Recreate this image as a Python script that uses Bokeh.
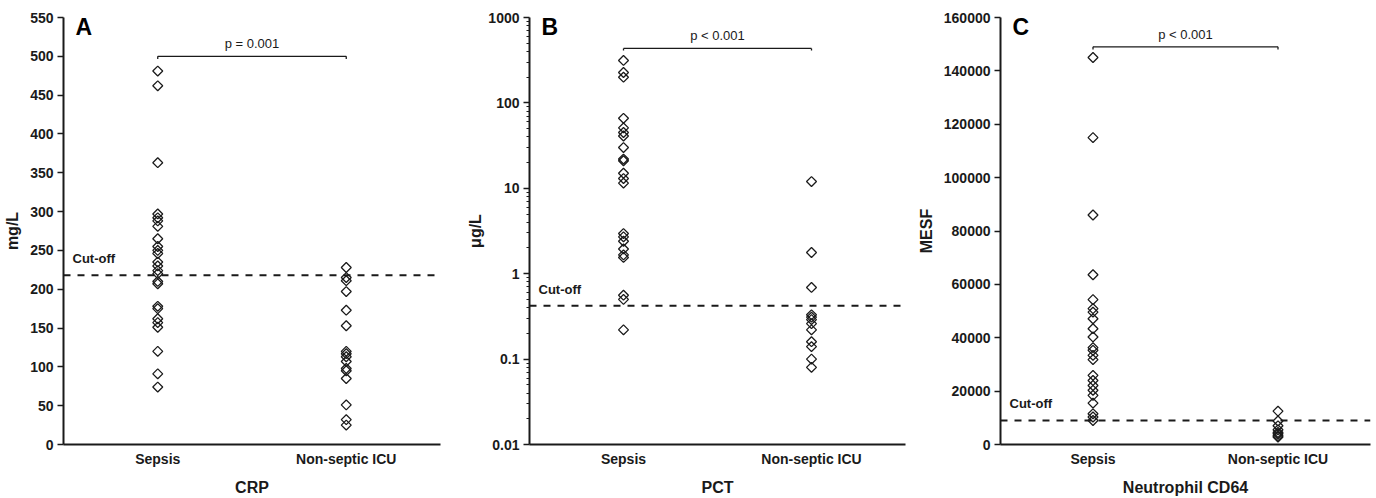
import math
from bokeh.plotting import figure
from bokeh.layouts import row
from bokeh.models import (FixedTicker, Span, Label, ColumnDataSource, Range1d,
                          CustomJSTickFormatter)
from bokeh.embed import file_html
from bokeh.resources import INLINE

# ---------------- data ----------------
groups = ["Sepsis", "Non-septic ICU"]

crp_sepsis = [481, 462, 363, 297, 292, 288, 281, 265, 255, 250, 246, 235, 230, 224,
              220, 210, 207, 178, 175, 162, 157, 151, 120, 91, 74]
crp_nonseptic = [228, 215, 211, 197, 173, 153, 120, 117, 113, 107, 98, 95, 85, 51, 32, 25]
crp_cutoff = 218
crp_p = "p = 0.001"

pct_sepsis = [314, 227, 200, 66, 51, 45, 41, 30, 22, 21, 15, 13, 11.5, 2.95, 2.7, 2.4,
              1.95, 1.66, 1.55, 0.56, 0.50, 0.22]
pct_nonseptic = [12, 1.77, 0.69, 0.33, 0.31, 0.29, 0.26, 0.22, 0.16, 0.14, 0.10, 0.08]
pct_cutoff = 0.42
pct_p = "p < 0.001"

cd64_sepsis = [145000, 115000, 86000, 63600, 54300, 50900, 49600, 47100, 43400, 40300,
               36300, 35300, 33400, 31800, 25900, 24000, 22100, 20300, 18400, 15500,
               11500, 10300, 9000]
cd64_nonseptic = [12500, 8800, 7000, 5500, 4500, 4000, 3300, 2800]
cd64_cutoff = 9000
cd64_p = "p < 0.001"

FONT = "Liberation Sans"
INK = "#1a1a1a"


def make_panel(letter, sepsis, nonseptic, cutoff, ptext, ylabel, xlabel,
               yrange, yticks, bracket_y, ptext_y, width, min_left, right,
               ylabel_standoff, log=False, minor=None):
    kw = dict(y_axis_type="log") if log else {}
    p = figure(width=width, height=498, output_backend="svg", toolbar_location=None,
               x_range=Range1d(0.5, 2.5), y_range=Range1d(*yrange),
               min_border_left=min_left, min_border_right=right,
               min_border_top=17, min_border_bottom=54, **kw)
    p.outline_line_color = None
    p.xgrid.visible = False
    p.ygrid.visible = False
    p.background_fill_color = "white"
    p.border_fill_color = "white"

    xs = [1] * len(sepsis) + [2] * len(nonseptic)
    ys = list(sepsis) + list(nonseptic)
    src = ColumnDataSource(dict(x=xs, y=ys))
    p.scatter("x", "y", source=src, marker="square", size=7, angle=math.pi / 4,
              fill_color=None, line_color=INK, line_width=1.3)

    # cut-off line
    p.add_layout(Span(location=cutoff, dimension="width", line_color=INK,
                      line_width=2, line_dash="7 7"))
    p.add_layout(Label(x=9, x_units="screen", y=cutoff, y_offset=9, text="Cut-off",
                       text_font=FONT, text_font_style="bold", text_font_size="13px",
                       text_color=INK))

    # significance bracket
    p.line([1, 2], [bracket_y, bracket_y], line_color=INK, line_width=1.3)
    if log:
        tick_end = bracket_y / 1.06
    else:
        tick_end = bracket_y - (yrange[1] - yrange[0]) * 0.006
    p.segment(x0=[1, 2], y0=[bracket_y, bracket_y], x1=[1, 2], y1=[tick_end, tick_end],
              line_color=INK, line_width=1.3)
    p.text(x=[1.5], y=[ptext_y], text=[ptext], text_align="center",
           text_baseline="middle", text_font_size="13px", text_color=INK,
           text_font={"value": FONT})

    # panel letter
    p.add_layout(Label(x=12, x_units="screen", y=yrange[1], y_offset=-9,
                       text=letter, text_font=FONT, text_font_style="bold",
                       text_font_size="23px", text_color="black",
                       text_baseline="middle"))

    # axes
    p.xaxis.ticker = FixedTicker(ticks=[1, 2])
    p.xaxis.major_label_overrides = {1: groups[0], 2: groups[1]}
    p.xaxis.major_tick_out = 0
    p.xaxis.major_tick_in = 0
    p.xaxis.minor_tick_out = 0
    p.xaxis.major_label_standoff = 6
    p.xaxis.axis_label = xlabel
    p.xaxis.axis_label_standoff = 9

    if minor is not None:
        p.yaxis.ticker = FixedTicker(ticks=yticks, minor_ticks=minor)
    else:
        p.yaxis.ticker = FixedTicker(ticks=yticks, num_minor_ticks=2)
    p.yaxis.formatter = CustomJSTickFormatter(code="return tick.toString();")
    p.yaxis.major_tick_out = 6
    p.yaxis.major_tick_in = 0
    p.yaxis.minor_tick_out = 3
    p.yaxis.minor_tick_in = 0
    p.yaxis.major_label_standoff = 4
    p.yaxis.axis_label = ylabel
    p.yaxis.axis_label_standoff = ylabel_standoff

    for ax in (p.xaxis, p.yaxis):
        ax.axis_line_color = INK
        ax.axis_line_width = 2
        ax.major_tick_line_color = INK
        ax.major_tick_line_width = 1.5
        ax.minor_tick_line_color = INK
        ax.minor_tick_line_width = 1.2
        ax.major_label_text_font = FONT
        ax.major_label_text_font_style = "bold"
        ax.major_label_text_font_size = "14px"
        ax.major_label_text_color = INK
        ax.axis_label_text_font = FONT
        ax.axis_label_text_font_style = "bold"
        ax.axis_label_text_font_size = "16px"
        ax.axis_label_text_color = INK
    return p


crp_ticks = [0, 50, 100, 150, 200, 250, 300, 350, 400, 450, 500, 550]
pct_ticks = [0.01, 0.1, 1, 10, 100, 1000]
pct_minor = [m * 10.0 ** e for e in range(-2, 3) for m in range(2, 10)]
cd64_ticks = [0, 20000, 40000, 60000, 80000, 100000, 120000, 140000, 160000]

pA = make_panel("A", crp_sepsis, crp_nonseptic, crp_cutoff, crp_p, "mg/L", "CRP",
                (0, 550), crp_ticks, 500, 516, 464, 63, 24, 6)
pB = make_panel("B", pct_sepsis, pct_nonseptic, pct_cutoff, pct_p, "\u03bcg/L", "PCT",
                (0.01, 1000), pct_ticks, 434, 616, 450, 64, 9, 1, log=True,
                minor=pct_minor)
pC = make_panel("C", cd64_sepsis, cd64_nonseptic, cd64_cutoff, cd64_p, "MESF",
                "Neutrophil CD64", (0, 160000), cd64_ticks, 149000, 153700, 462, 79, 6,
                6)

layout = row(pA, pB, pC)
open("out.html", "w").write(file_html(layout, INLINE))
